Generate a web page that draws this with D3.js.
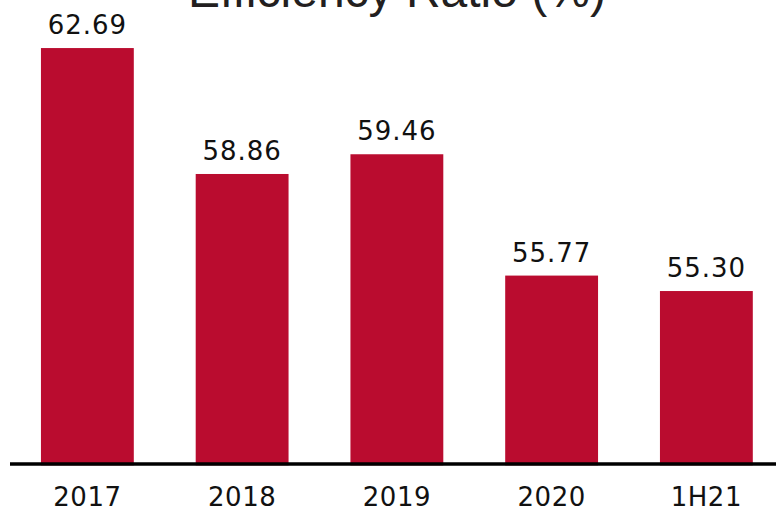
<!DOCTYPE html>
<html>
<head>
<meta charset="utf-8">
<script src="https://cdn.jsdelivr.net/npm/d3@7"></script>
<style>
  html, body { margin: 0; padding: 0; background: #fff; }
  svg { display: block; }
</style>
</head>
<body>
<svg id="chart" width="776" height="509"></svg>
<script>
// Efficiency ratio by period
const categories = ["2017", "2018", "2019", "2020", "1H21"];
const ratios = [62.69, 58.86, 59.46, 55.77, 55.30];
const valueLabels = ["62.69", "58.86", "59.46", "55.77", "55.30"];
const chartTitle = "Efficiency Ratio (%)";

const W = 776, H = 509;
const svg = d3.select("#chart");

const x = d3.scaleBand()
  .domain(categories)
  .range([10, 783.75])
  .paddingInner(0.4)
  .paddingOuter(0.2);

const lineY = 464;
const y = d3.scaleLinear()
  .domain([50, 63])
  .range([465.3, 465.3 - 13 * 32.88]);

const data = categories.map((c, i) => ({ c, v: ratios[i], label: valueLabels[i] }));

// bars
svg.append("g")
  .selectAll("rect")
  .data(data)
  .join("rect")
  .attr("x", d => x(d.c))
  .attr("y", d => y(d.v))
  .attr("width", x.bandwidth())
  .attr("height", d => y(50) - y(d.v))
  .attr("fill", "#BA0C2F");

// value labels
svg.append("g")
  .selectAll("text")
  .data(data)
  .join("text")
  .attr("x", d => x(d.c) + x.bandwidth() / 2)
  .attr("y", d => y(d.v) - 14)
  .attr("text-anchor", "middle")
  .attr("font-family", "DejaVu Sans, sans-serif")
  .attr("font-size", 26)
  .attr("letter-spacing", 1)
  .attr("fill", "#111")
  .text(d => d.label);

// category axis
const xAxis = svg.append("g")
  .attr("transform", `translate(0,${lineY})`)
  .call(d3.axisBottom(x).tickSize(0).tickPadding(0));
xAxis.select(".domain").remove();
xAxis.selectAll("text")
  .attr("dy", null)
  .attr("y", 42)
  .attr("font-family", "DejaVu Sans, sans-serif")
  .attr("font-size", 26)
  .attr("letter-spacing", 0.5)
  .attr("fill", "#111");

// baseline
svg.append("line")
  .attr("x1", 10)
  .attr("x2", W)
  .attr("y1", lineY)
  .attr("y2", lineY)
  .attr("stroke", "#000")
  .attr("stroke-width", 3.5);

// title
svg.append("text")
  .attr("x", 397)
  .attr("y", 7)
  .attr("text-anchor", "middle")
  .attr("font-family", "Liberation Sans, Arial, sans-serif")
  .attr("font-size", 48)
  .attr("fill", "#231F20")
  .text(chartTitle);
</script>
</body>
</html>
